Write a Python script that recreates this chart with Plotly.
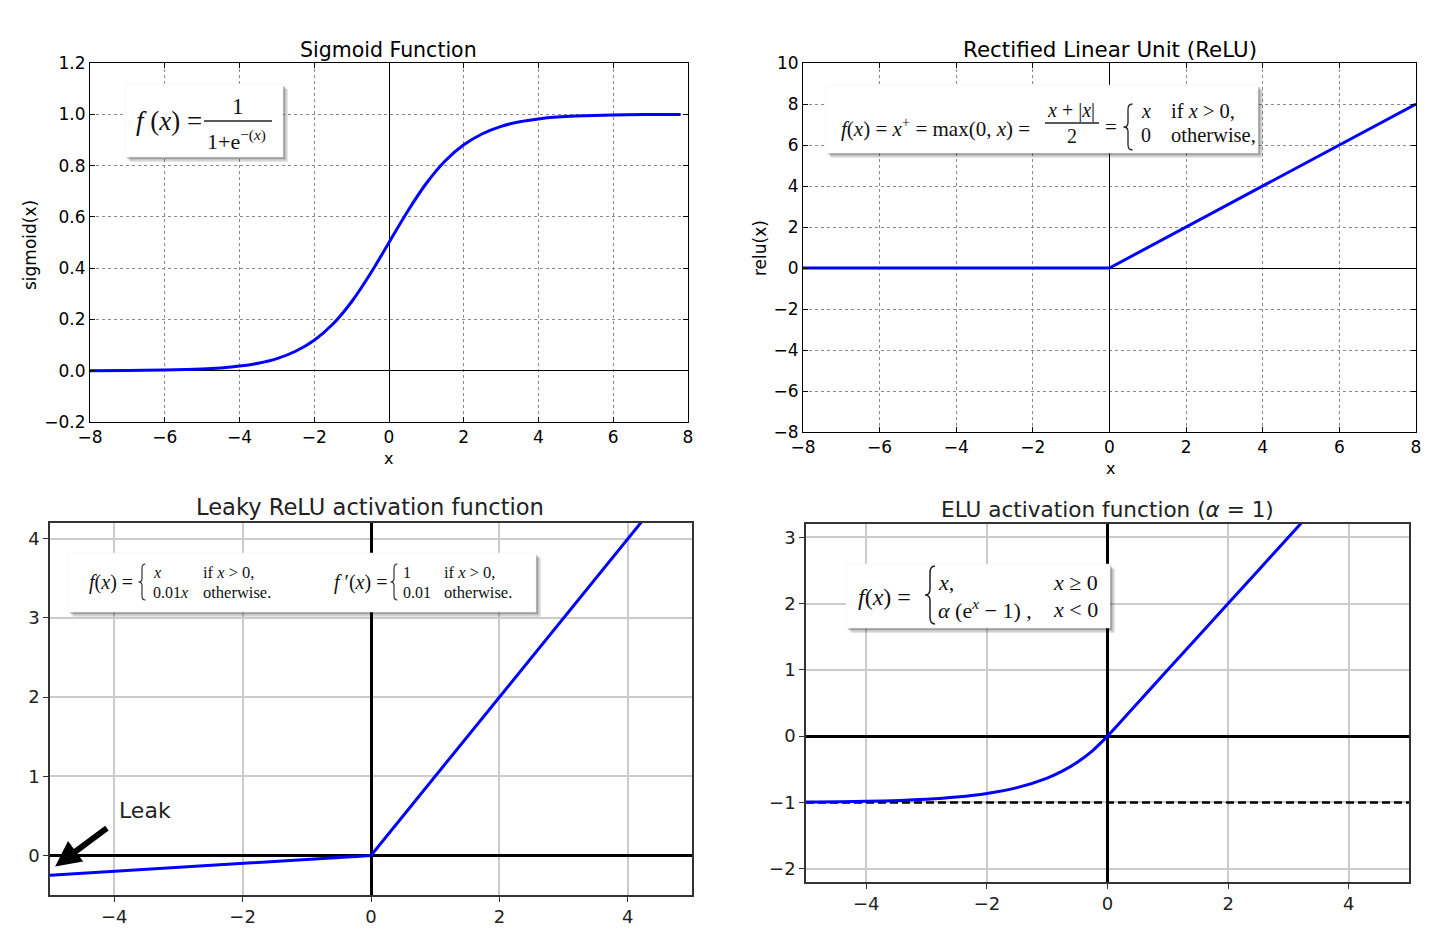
import plotly.graph_objects as go

W, H = 1430, 939

# ---------------- data ----------------
sig_x = [-8, -7, -6, -5, -4.5, -4, -3.5, -3, -2.5, -2, -1.5, -1, -0.5, 0,
         0.5, 1, 1.5, 2, 2.5, 3, 3.5, 4, 4.5, 5, 6, 7, 7.8]
sig_y = [0.0003, 0.0009, 0.0025, 0.0067, 0.011, 0.018, 0.029, 0.047, 0.076,
         0.119, 0.182, 0.269, 0.378, 0.5, 0.622, 0.731, 0.818, 0.881, 0.924,
         0.953, 0.971, 0.982, 0.989, 0.993, 0.9975, 0.9991, 0.9996]

relu_x = [-8, 0, 8]
relu_y = [0, 0, 8]

leaky_x = [-5, 0, 5]
leaky_y = [-0.25, 0, 5]

elu_x = [-5, -4, -3, -2.5, -2, -1.5, -1, -0.75, -0.5, -0.25, 0, 0.5, 1, 2, 3, 4, 5]
elu_y = [-0.993, -0.982, -0.950, -0.918, -0.865, -0.777, -0.632, -0.528,
         -0.393, -0.221, 0, 0.5, 1, 2, 3, 4, 5]
elu_floor_x = [-5, 5]
elu_floor_y = [-1, -1]

sig_xticks = [-8, -6, -4, -2, 0, 2, 4, 6, 8]
sig_yticks = [-0.2, 0.0, 0.2, 0.4, 0.6, 0.8, 1.0, 1.2]
relu_xticks = [-8, -6, -4, -2, 0, 2, 4, 6, 8]
relu_yticks = [-8, -6, -4, -2, 0, 2, 4, 6, 8, 10]
leaky_xticks = [-4, -2, 0, 2, 4]
leaky_yticks = [0, 1, 2, 3, 4]
elu_xticks = [-4, -2, 0, 2, 4]
elu_yticks = [-2, -1, 0, 1, 2, 3]

leak_head = (-4.92, -0.14)
leak_tail = (-4.09, 0.36)
leak_label = (-3.52, 0.57)

titles = ["Sigmoid Function", "Rectified Linear Unit (ReLU)",
          "Leaky ReLU activation function", "ELU activation function (<i>α</i> = 1)"]

# ---------------- helpers ----------------
def px(x):
    return x / W

def py(y):
    return 1 - y / H

BLUE = "#0000ff"
SERIF = "Liberation Serif"
SANS = "DejaVu Sans"

fig = go.Figure()
fig.add_trace(go.Scatter(x=sig_x, y=sig_y, mode="lines", line=dict(color=BLUE, width=3, shape="spline"),
                         xaxis="x", yaxis="y", showlegend=False))
fig.add_trace(go.Scatter(x=relu_x, y=relu_y, mode="lines", line=dict(color=BLUE, width=3),
                         xaxis="x2", yaxis="y2", showlegend=False))
fig.add_trace(go.Scatter(x=leaky_x, y=leaky_y, mode="lines", line=dict(color=BLUE, width=3),
                         xaxis="x3", yaxis="y3", showlegend=False))
fig.add_trace(go.Scatter(x=elu_floor_x, y=elu_floor_y, mode="lines",
                         line=dict(color="black", width=2.5, dash="8px,4px"),
                         xaxis="x4", yaxis="y4", showlegend=False))
fig.add_trace(go.Scatter(x=elu_x, y=elu_y, mode="lines", line=dict(color=BLUE, width=3, shape="spline"),
                         xaxis="x4", yaxis="y4", showlegend=False))


def top_axis(domain, rng, tickvals, anchor, fmt=None):
    d = dict(domain=domain, range=rng, tickvals=tickvals, anchor=anchor, automargin=False,
             showgrid=True, gridcolor="#8a8a8a", griddash="dot", gridwidth=1,
             zeroline=True, zerolinecolor="black", zerolinewidth=1,
             showline=True, linecolor="black", linewidth=1, mirror="ticks",
             ticks="inside", ticklen=5, tickcolor="black",
             tickfont=dict(family=SANS, size=17, color="black"))
    if fmt:
        d["tickformat"] = fmt
    return d


def bot_axis(domain, rng, tickvals, anchor):
    return dict(domain=domain, range=rng, tickvals=tickvals, anchor=anchor, automargin=False,
                showgrid=True, gridcolor="#cbcbcb", gridwidth=1.6,
                zeroline=True, zerolinecolor="black", zerolinewidth=2.5,
                showline=True, linecolor="#333333", linewidth=1.5, mirror=True,
                ticks="outside", ticklen=5, tickcolor="#333333",
                tickfont=dict(family=SANS, size=18, color="#222222"))


layout = dict(
    width=W, height=H, margin=dict(l=0, r=0, t=0, b=0, autoexpand=False),
    paper_bgcolor="white", plot_bgcolor="white",
    xaxis=top_axis([px(90), px(688)], [-8, 8], sig_xticks, "y"),
    yaxis=top_axis([py(422), py(63)], [-0.2, 1.2], sig_yticks, "x", ".1f"),
    xaxis2=top_axis([px(803), px(1416)], [-8, 8], relu_xticks, "y2"),
    yaxis2=top_axis([py(432), py(63)], [-8, 10], relu_yticks, "x2"),
    xaxis3=bot_axis([px(50), px(692)], [-5, 5], leaky_xticks, "y3"),
    yaxis3=bot_axis([py(895), py(523)], [-0.5, 4.2], leaky_yticks, "x3"),
    xaxis4=bot_axis([px(806), px(1409)], [-5, 5], elu_xticks, "y4"),
    yaxis4=bot_axis([py(882), py(524)], [-2.2, 3.2], elu_yticks, "x4"),
)
fig.update_layout(**layout)

shapes = []
annotations = []


def box(x0, y0, x1, y1):
    for off, a in ((5, 0.10), (3.5, 0.14), (2, 0.18)):
        shapes.append(dict(type="rect", xref="paper", yref="paper", layer="above",
                           x0=px(x0 + off), x1=px(x1 + off), y0=py(y0 + off), y1=py(y1 + off),
                           fillcolor="rgba(0,0,0,%s)" % a, line=dict(width=0)))
    shapes.append(dict(type="rect", xref="paper", yref="paper", layer="above",
                       x0=px(x0), x1=px(x1), y0=py(y0), y1=py(y1),
                       fillcolor="white", line=dict(width=0.5, color="#eeeeee")))


def bar(x0, x1, y, w=1.3):
    shapes.append(dict(type="line", xref="paper", yref="paper", layer="above",
                       x0=px(x0), x1=px(x1), y0=py(y), y1=py(y),
                       line=dict(color="#222222", width=w)))


def brace(xc, top, bot, w=8, lw=1.3):
    xl, xm, xr = px(xc - w / 2), px(xc), px(xc + w / 2)
    h = bot - top
    mid = (top + bot) / 2
    p = lambda v: py(v)
    path = ("M {xr},{t} Q {xm},{t} {xm},{t2} L {xm},{m1} Q {xm},{m} {xl},{m} "
            "Q {xm},{m} {xm},{m2} L {xm},{b2} Q {xm},{b} {xr},{b}").format(
        xr=xr, xm=xm, xl=xl, t=p(top), t2=p(top + h * 0.12), m1=p(mid - h * 0.1),
        m=p(mid), m2=p(mid + h * 0.1), b2=p(bot - h * 0.12), b=p(bot))
    shapes.append(dict(type="path", xref="paper", yref="paper", layer="above", path=path,
                       line=dict(color="#222222", width=lw)))


def txt(x, y, text, size, family=SERIF, xanchor="center", angle=0, color="#111111"):
    annotations.append(dict(xref="paper", yref="paper", x=px(x), y=py(y), text=text,
                            showarrow=False, xanchor=xanchor, yanchor="middle", borderpad=0,
                            textangle=angle, font=dict(family=family, size=size, color=color)))


# titles
txt(388, 50, titles[0], 20.5, SANS, color="black")
txt(1110, 50, titles[1], 21.4, SANS, color="black")
txt(370, 507, titles[2], 22.6, SANS, color="#222222")
txt(1107, 509, titles[3], 21.6, SANS, color="#222222")

# axis titles
txt(30, 245, "sigmoid(x)", 17, SANS, angle=-90, color="black")
txt(388, 458, "x", 16, SANS, color="black")
txt(760, 248, "relu(x)", 17, SANS, angle=-90, color="black")
txt(1110, 468, "x", 16, SANS, color="black")

# sigmoid formula
box(125, 84, 283, 157)
txt(135, 121, "<i>f</i> (<i>x</i>) =", 27, xanchor="left")
txt(238, 106, "1", 23)
bar(204, 272, 121)
txt(237, 140, "1+e<sup>−(<i>x</i>)</sup>", 22)

# relu formula
box(826, 85, 1258, 153)
txt(840, 127, "<i>f</i>(<i>x</i>) = <i>x</i><sup>+</sup> = max(0, <i>x</i>) =", 21, xanchor="left")
txt(1071, 110, "<i>x</i> + |<i>x</i>|", 20)
bar(1045, 1099, 123)
txt(1072, 136, "2", 20)
txt(1111, 127, "=", 21)
brace(1128, 104, 150, w=9)
txt(1140, 111, "<i>x</i>", 20, xanchor="left")
txt(1170, 111, "if <i>x</i> &gt; 0,", 20.5, xanchor="left")
txt(1140, 135, "0", 20, xanchor="left")
txt(1170, 135, "otherwise,", 20.5, xanchor="left")

# leaky formula
box(68, 553, 536, 612)
txt(88, 582, "<i>f</i>(<i>x</i>) =", 20, xanchor="left")
brace(142, 564, 600, w=7, lw=1.1)
txt(152, 572, "<i>x</i>", 16, xanchor="left")
txt(202, 572, "if <i>x</i> &gt; 0,", 16.5, xanchor="left")
txt(152, 592, "0.01<i>x</i>", 16, xanchor="left")
txt(202, 592, "otherwise.", 16.5, xanchor="left")
txt(333, 582, "<i>f</i> ′(<i>x</i>) =", 20, xanchor="left")
brace(394, 564, 600, w=7, lw=1.1)
txt(402, 572, "1", 16, xanchor="left")
txt(443, 572, "if <i>x</i> &gt; 0,", 16.5, xanchor="left")
txt(402, 592, "0.01", 16, xanchor="left")
txt(443, 592, "otherwise.", 16.5, xanchor="left")

# elu formula
box(846, 564, 1110, 628)
txt(857, 597, "<i>f</i>(<i>x</i>) =", 24, xanchor="left")
brace(930, 566, 624, w=10, lw=1.5)
txt(937, 582, "<i>x</i>,", 22, xanchor="left")
txt(1099, 582, "<i>x</i> ≥ 0", 22, xanchor="right")
txt(937, 609, "<i>α</i> (e<sup><i>x</i></sup> − 1) ,", 22, xanchor="left")
txt(1099, 609, "<i>x</i> &lt; 0", 22, xanchor="right")

# leak arrow + label
annotations.append(dict(xref="x3", yref="y3", axref="x3", ayref="y3",
                        x=leak_head[0], y=leak_head[1], ax=leak_tail[0], ay=leak_tail[1],
                        text="", showarrow=True, arrowhead=2, arrowsize=0.85, arrowwidth=6,
                        arrowcolor="black", standoff=0, startstandoff=0))
annotations.append(dict(xref="x3", yref="y3", x=leak_label[0], y=leak_label[1], text="Leak",
                        showarrow=False, xanchor="center", yanchor="middle",
                        font=dict(family=SANS, size=22, color="#222222")))

fig.update_layout(shapes=shapes, annotations=annotations)
fig.write_html("out.html", config={"displayModeBar": False},
               post_script="document.body.style.margin='0px';document.body.style.overflow='hidden';")
